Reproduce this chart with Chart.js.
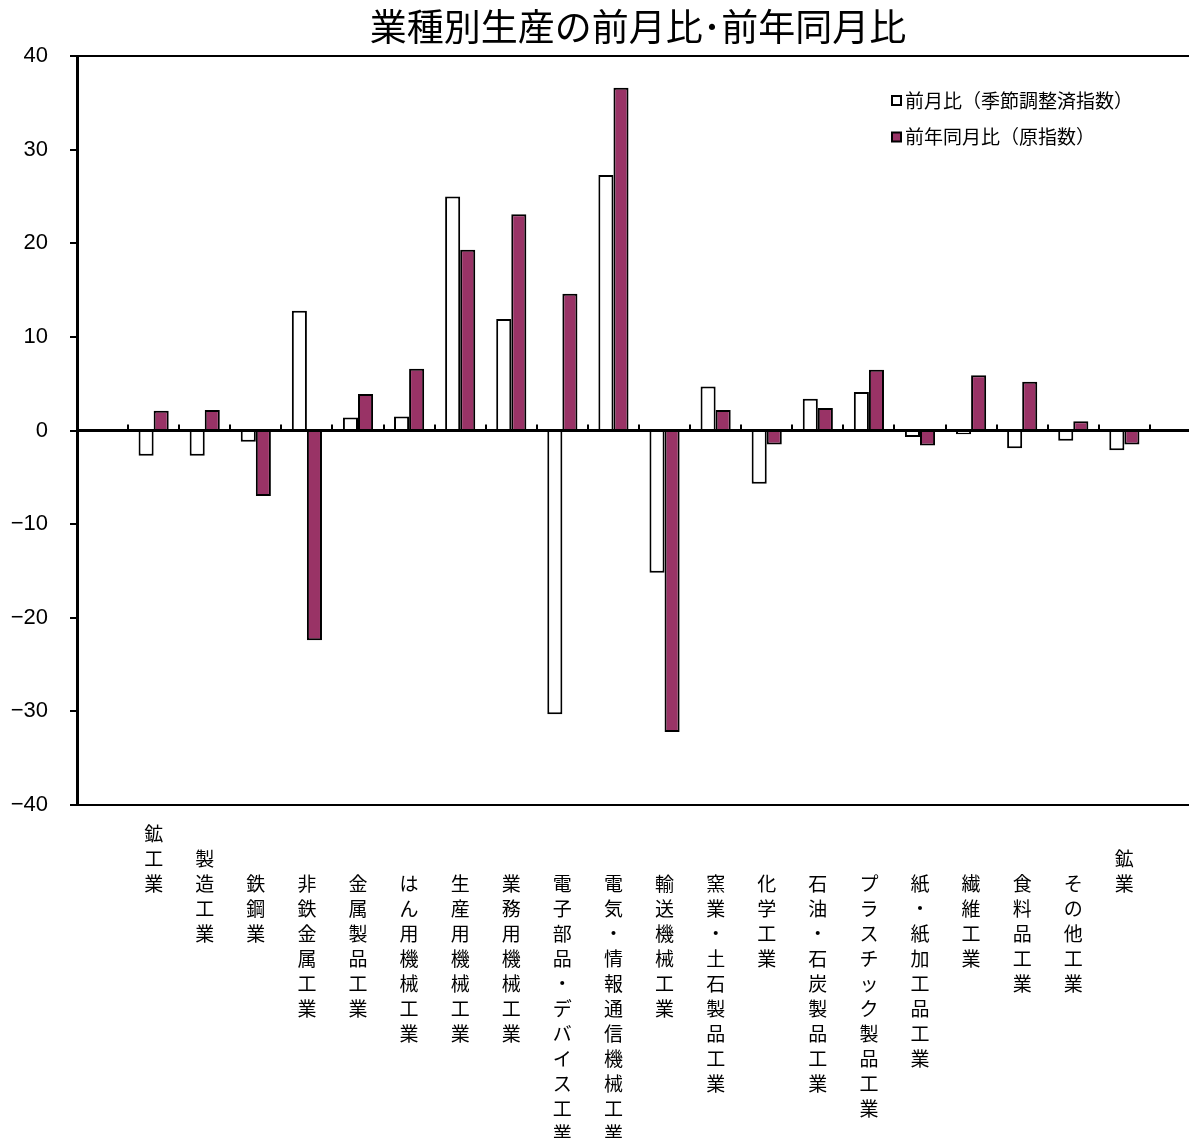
<!DOCTYPE html>
<html lang="ja">
<head>
<meta charset="utf-8">
<title>業種別生産の前月比・前年同月比</title>
<script src="https://cdn.jsdelivr.net/npm/chart.js@4.4.1/dist/chart.umd.min.js"></script>
<style>
  html, body { margin: 0; padding: 0; background: #fff; overflow: hidden; }
  #grafico { display: block; }
</style>
</head>
<body>
<canvas id="grafico" width="1276" height="1138"></canvas>
<script>
// Dados
const categorias = [
  "鉱工業", "製造工業", "鉄鋼業", "非鉄金属工業", "金属製品工業",
  "はん用機械工業", "生産用機械工業", "業務用機械工業", "電子部品・デバイス工業",
  "電気・情報通信機械工業", "輸送機械工業", "窯業・土石製品工業", "化学工業",
  "石油・石炭製品工業", "プラスチック製品工業", "紙・紙加工品工業", "繊維工業",
  "食料品工業", "その他工業", "鉱業"
];

// 前月比（季節調整済指数）
const zenGetsuHi = [
  -2.7, -2.7, -1.2, 12.8, 1.4, 1.5, 25.0, 11.9, -30.3, 27.3,
  -15.2, 4.7, -5.7, 3.4, 4.1, -0.7, -0.4, -1.9, -1.1, -2.1
];

// 前年同月比（原指数）
const zenNenHi = [
  2.1, 2.2, -7.0, -22.4, 3.9, 6.6, 19.3, 23.1, 14.6, 36.6,
  -32.2, 2.2, -1.5, 2.4, 6.5, -1.6, 5.9, 5.2, 1.0, -1.5
];

const yMin = -40;
const yMax = 40;
const yPasso = 10;

const fonteJP = '"Noto Sans CJK JP", "Noto Sans", sans-serif';
Chart.defaults.font.family = fonteJP;
Chart.defaults.color = "#000";

// linhas vazias antes de cada rótulo vertical (padrão 2)
const linhasAntes = { "鉱工業": 0, "製造工業": 1, "鉱業": 1 };

// título centrado na largura toda do canvas (o padding direito não conta)
const tituloLargo = {
  id: "tituloLargo",
  afterLayout(chart) {
    const t = chart.titleBlock;
    if (!t) return;
    t.left = 0;
    t.right = chart.width;
    t.width = chart.width;
  }
};

// linha do zero e marcas entre categorias, por cima das barras
const marcasZero = {
  id: "marcasZero",
  afterDatasetsDraw(chart) {
    const { ctx, chartArea, scales: { x, y } } = chart;
    const y0 = y.getPixelForValue(0);
    const passo = x.width / x.ticks.length;
    ctx.save();
    ctx.strokeStyle = "#000";
    ctx.lineWidth = 3;
    ctx.beginPath();
    ctx.moveTo(chartArea.left, y0);
    ctx.lineTo(chartArea.right, y0);
    ctx.stroke();
    ctx.lineWidth = 2;
    ctx.beginPath();
    for (let i = 1; i < x.ticks.length; i++) {
      const px = Math.round(x.getPixelForTick(i) - passo / 2);
      ctx.moveTo(px, y0);
      ctx.lineTo(px, y0 - 6);
    }
    ctx.stroke();
    ctx.restore();
  }
};

// legenda dentro da área do gráfico, canto superior direito
const legendaInterna = {
  id: "legendaInterna",
  afterDraw(chart) {
    const { ctx } = chart;
    ctx.save();
    ctx.font = "19px " + fonteJP;
    ctx.textBaseline = "middle";
    chart.data.datasets.forEach((ds, i) => {
      const cy = 100.5 + i * 36.5;
      ctx.fillStyle = ds.backgroundColor;
      ctx.fillRect(892, cy - 4.5, 9, 9);
      ctx.strokeStyle = "#000";
      ctx.lineWidth = 2;
      ctx.strokeRect(892, cy - 4.5, 9, 9);
      ctx.fillStyle = "#000";
      ctx.fillText(ds.label, 905, cy);
    });
    ctx.restore();
  }
};

new Chart(document.getElementById("grafico"), {
  type: "bar",
  data: {
    labels: [""].concat(categorias, [""]),
    datasets: [
      {
        label: "前月比（季節調整済指数）",
        data: [null].concat(zenGetsuHi, [null]),
        backgroundColor: "#ffffff",
        borderColor: "#000",
        borderWidth: 2
      },
      {
        label: "前年同月比（原指数）",
        data: [null].concat(zenNenHi, [null]),
        backgroundColor: "#993366",
        borderColor: "#000",
        borderWidth: 2
      }
    ]
  },
  options: {
    responsive: false,
    animation: false,
    categoryPercentage: 0.59,
    barPercentage: 1,
    layout: { padding: { left: 0, right: 75, top: 0, bottom: 0 } },
    plugins: {
      legend: { display: false },
      tooltip: { enabled: false },
      title: {
        display: true,
        text: "業種別生産の前月比･前年同月比",
        color: "#000",
        font: { size: 37, weight: "normal", lineHeight: 1.2 },
        padding: { top: 5, bottom: 6.6 }
      }
    },
    scales: {
      x: {
        grid: { display: true, drawOnChartArea: false, drawTicks: false },
        border: { display: true, color: "#000", width: 2 },
        ticks: {
          autoSkip: false,
          maxRotation: 0,
          minRotation: 0,
          padding: 16,
          color: "#000",
          font: { size: 19, lineHeight: 25 / 19 },
          callback: function (value) {
            const nome = this.getLabelForValue(value);
            if (!nome) return "";
            const antes = linhasAntes[nome] ?? 2;
            return Array(antes).fill("").concat(Array.from(nome));
          }
        },
        afterFit(scale) { scale.height = 333; }
      },
      y: {
        min: yMin,
        max: yMax,
        ticks: {
          stepSize: yPasso,
          padding: 22,
          color: "#000",
          font: { family: '"Liberation Sans", Arial, sans-serif', size: 22 },
          callback: v => String(v).replace("-", "−")
        },
        grid: {
          color: ctx => ctx.tick && ctx.tick.value === yMax ? "#000" : "rgba(0,0,0,0)",
          lineWidth: 2,
          tickColor: "#000",
          tickWidth: 2,
          tickLength: 7
        },
        border: { display: true, color: "#000", width: 3 },
        afterFit(scale) { scale.width = 77; }
      }
    }
  },
  plugins: [tituloLargo, marcasZero, legendaInterna]
});
</script>
</body>
</html>
